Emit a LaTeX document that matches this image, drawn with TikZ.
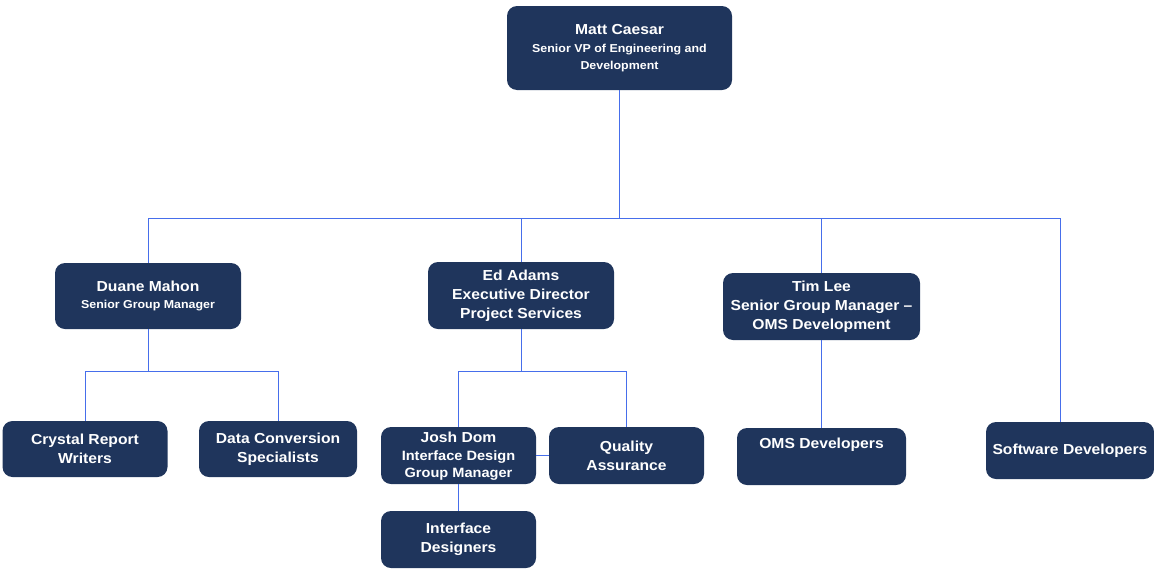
\documentclass[tikz,border=0pt]{standalone}
\usepackage{fontspec}
\setmainfont{Liberation Sans}[FakeStretch=1.08]
\definecolor{boxfill}{RGB}{31,53,92}
\definecolor{linkblue}{RGB}{70,110,235}
\begin{document}
\begin{tikzpicture}[x=1pt,y=-1pt,
  box/.style={draw=none,fill=boxfill,rounded corners=10pt,text=white,align=center,
    font=\bfseries\fontsize{14.5}{19}\selectfont,inner sep=0pt},
  link/.style={draw=linkblue,line width=0.9pt}]
\newcommand{\subsz}{\fontsize{11.5}{15}\selectfont}
\useasboundingbox (0,0) rectangle (1154,568);
% boxes
\node[box,minimum width=225pt,minimum height=84pt] (matt) at (619.5,48)
  {Matt Caesar\\[-1pt]{\subsz Senior VP of Engineering and}\\[-2pt]{\subsz Development}};
\node[box,minimum width=186pt,minimum height=66pt] (duane) at (148,296)
  {Duane Mahon\\[-2pt]{\subsz Senior Group Manager}};
\node[box,minimum width=186pt,minimum height=67pt] (ed) at (521,295.5)
  {Ed Adams\\Executive Director\\Project Services};
\node[box,minimum width=197pt,minimum height=67pt] (tim) at (821.5,306.5)
  {Tim Lee\\Senior Group Manager --\\OMS Development};
\node[box,minimum width=165pt,minimum height=56pt] (crystal) at (85,449)
  {Crystal Report\\Writers};
\node[box,minimum width=158pt,minimum height=56pt] (data) at (278,449)
  {Data Conversion\\Specialists};
\node[box,minimum width=155pt,minimum height=57pt] (josh) at (458.5,455.5) {};
\node[text=white,align=center,inner sep=0pt,font=\bfseries\fontsize{13.5}{17.5}\selectfont] (josht) at (458.5,456.5)
  {{\fontsize{14.5}{17.5}\selectfont Josh Dom}\\Interface Design\\Group Manager};
\node[box,minimum width=155pt,minimum height=57pt] (qa) at (626.5,455.5)
  {Quality\\Assurance};
\node[box,minimum width=155pt,minimum height=57pt] (idesign) at (458.5,539.5)
  {Interface\\Designers};
\node[box,minimum width=169pt,minimum height=57pt] (oms) at (821.5,456.5) {};
\node[text=white,font=\bfseries\fontsize{14.5}{19}\selectfont,anchor=north,inner sep=0pt] (omst) at (821.5,438) {OMS Developers};
\node[box,minimum width=168pt,minimum height=57pt] (soft) at (1070,450.5)
  {Software Developers};
% connectors
\coordinate (j1) at (619.5,218);
\draw[link] (matt.south) -- (j1);
\draw[link] (duane.north) |- (j1);
\draw[link] (soft.north -| 1060,0) |- (j1);
\draw[link] (ed.north) -- (ed.north |- j1);
\draw[link] (tim.north) -- (tim.north |- j1);
\coordinate (j2) at (148,371);
\draw[link] (duane.south) -- (j2);
\draw[link] (crystal.north) |- (data.north |- j2) -- (data.north);
\coordinate (j3) at (521,371);
\draw[link] (ed.south) -- (j3);
\draw[link] (josh.north) |- (qa.north |- j3) -- (qa.north);
\draw[link] (josh.east) -- (qa.west);
\draw[link] (josh.south) -- (idesign.north);
\draw[link] (tim.south) -- (oms.north);
\end{tikzpicture}
\end{document}
